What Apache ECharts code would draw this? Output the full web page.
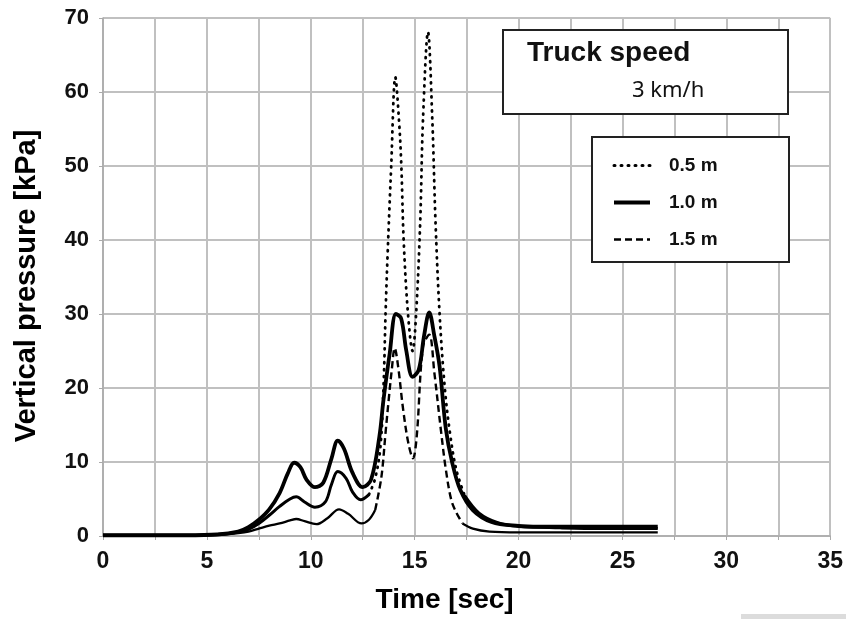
<!DOCTYPE html>
<html>
<head>
<meta charset="utf-8">
<script src="https://cdn.jsdelivr.net/npm/echarts@6/dist/echarts.min.js"></script>
<style>
  html, body { margin: 0; padding: 0; background: #fff; }
  #Pressure { width: 846px; height: 619px; }
</style>
</head>
<body>
<div id="Pressure"></div>
<script>
  // depth 0.5 m (dotted)
  var time05 = [0, 2, 4, 5.5, 6.5, 7, 7.5, 8, 8.5, 9.0, 9.3, 9.7, 10.2, 10.7, 11.0, 11.3, 11.7, 12.0, 12.4, 12.8, 13.1, 13.35, 13.5, 13.6, 13.7, 13.87, 14.07, 14.25, 14.36, 14.47, 14.68, 14.9, 15.07, 15.27, 15.4, 15.64, 15.85, 16.0, 16.2, 16.45, 16.7, 17.0, 17.4, 18.1, 19, 20, 22, 24, 26.7]
  var press05 = [0.1, 0.1, 0.1, 0.2, 0.5, 0.9, 1.7, 2.8, 4.0, 5.0, 5.3, 4.6, 3.9, 4.6, 7.0, 8.7, 7.8, 6.0, 4.9, 5.6, 7.8, 12, 20, 30.1, 38.2, 49.9, 62, 56, 49.9, 40, 30, 25, 30, 42.7, 56.2, 68.1, 56.2, 42.7, 30, 20, 13.9, 9.0, 5.5, 3.1, 1.8, 1.3, 1.1, 1.0, 1.0]
  // depth 1.0 m (thick solid)
  var time10 = [0, 2, 4, 5.5, 6.5, 7, 7.5, 8, 8.5, 8.9, 9.2, 9.5, 9.8, 10.2, 10.6, 11.0, 11.3, 11.6, 12.0, 12.5, 12.9, 13.3, 13.5, 13.8, 14.1, 14.35, 14.6, 14.9, 15.2, 15.45, 15.7, 15.95, 16.2, 16.5, 16.8, 17.2, 17.8, 18.7, 20, 21, 23, 25, 26.7]
  var press10 = [0.1, 0.1, 0.1, 0.2, 0.6, 1.2, 2.2, 3.6, 5.8, 8.5, 9.9, 9.3, 7.6, 6.6, 7.2, 10.5, 12.9, 11.8, 8.6, 6.6, 7.6, 13.4, 18.4, 24.7, 30.0, 29.4, 25.0, 21.5, 22.5, 27.0, 30.2, 27.0, 22.9, 14.5, 10.0, 6.2, 3.5, 1.9, 1.35, 1.25, 1.25, 1.25, 1.25]
  // depth 1.5 m (dashed)
  var time15 = [0, 2, 4, 5.5, 6.5, 7, 7.5, 8, 8.5, 9.0, 9.3, 9.7, 10.27, 10.8, 11.36, 11.8, 12.44, 12.8, 13.1, 13.4, 13.6, 13.75, 13.9, 14.04, 14.2, 14.45, 14.7, 14.92, 15.1, 15.4, 15.7, 15.95, 16.28, 16.5, 16.76, 17.0, 17.3, 17.8, 18.6, 20, 22, 24, 26.7]
  var press15 = [0.1, 0.1, 0.1, 0.15, 0.4, 0.6, 1.0, 1.4, 1.7, 2.1, 2.3, 2.0, 1.6, 2.4, 3.6, 3.0, 1.7, 2.2, 3.5, 8, 14, 18.4, 22.5, 25.4, 23, 17, 12.5, 10.5, 13.5, 25.6, 27.2, 22, 13.9, 9, 4.9, 3.2, 1.7, 1.0, 0.6, 0.5, 0.5, 0.5, 0.5]

  var legendNames = ['0.5 m', '1.0 m', '1.5 m']
  var titleText = 'Truck speed'
  var speedText = '3 km/h'
  var xMax = 35, xStep = 5
  var yMax = 70, yStep = 10

  // the dotted / dashed look only shows around the main peaks, elsewhere the traces look solid
  var styledFrom05 = 12.8, styledTo05 = 17.4
  var styledFrom15 = 13.1, styledTo15 = 17.3

  function pairs(t, v) {
    return t.map(function (x, i) { return [x, v[i]] })
  }
  function inside(t, v, a, b) {
    return pairs(t, v).filter(function (p) { return p[0] >= a && p[0] <= b })
  }
  function outside(t, v, a, b) {
    return pairs(t, v).map(function (p) { return (p[0] > a && p[0] < b) ? [p[0], '-'] : p })
  }

  var chart = echarts.init(document.getElementById('Pressure'))
  var fontMain = "'Liberation Sans', Arial, sans-serif"
  var gridColor = '#c0c0c0'
  var smooth = 0.35
  var dotted = [1, 6], dashed = [7, 4]

  chart.setOption({
    animation: false,
    backgroundColor: '#fff',
    color: ['#000'],
    grid: { left: 103, right: 15, top: 18, bottom: 83 },
    xAxis: {
      type: 'value', min: 0, max: xMax, interval: xStep,
      name: 'Time [sec]', nameLocation: 'middle', nameGap: 50,
      nameTextStyle: { fontFamily: fontMain, fontWeight: 'bold', fontSize: 28, color: '#000', padding: [0, 44, 0, 0] },
      axisLine: { show: true, lineStyle: { color: '#aaa', width: 1.5 } },
      axisTick: { show: true, inside: false, length: 4, lineStyle: { color: '#aaa' } },
      minorTick: { show: true, splitNumber: 2, length: 4, lineStyle: { color: '#aaa' } },
      splitLine: { show: true, lineStyle: { color: gridColor, width: 2 } },
      minorSplitLine: { show: true, lineStyle: { color: gridColor, width: 2 } },
      axisLabel: { fontFamily: fontMain, fontWeight: 'bold', fontSize: 23, color: '#111', margin: 14 }
    },
    yAxis: {
      type: 'value', min: 0, max: yMax, interval: yStep,
      name: 'Vertical pressure [kPa]', nameLocation: 'middle', nameGap: 62,
      nameTextStyle: { fontFamily: fontMain, fontWeight: 'bold', fontSize: 29, color: '#000', padding: [0, 18, 0, 0] },
      axisLine: { show: true, lineStyle: { color: '#aaa', width: 1.5 } },
      axisTick: { show: true, length: 4, lineStyle: { color: '#aaa' } },
      splitLine: { show: true, lineStyle: { color: gridColor, width: 2 } },
      axisLabel: { fontFamily: fontMain, fontWeight: 'bold', fontSize: 22, color: '#111', margin: 14 }
    },
    legend: {
      data: [
        { name: legendNames[0], lineStyle: { width: 3, type: dotted, cap: 'round' } },
        { name: legendNames[1], lineStyle: { width: 4 } },
        { name: legendNames[2], lineStyle: { width: 2.5, type: dashed } }
      ],
      orient: 'vertical',
      left: 607, top: 151,
      itemWidth: 36, itemHeight: 14, itemGap: 18,
      itemStyle: { opacity: 0 },
      textStyle: { fontFamily: fontMain, fontWeight: 'bold', fontSize: 19, color: '#111', padding: [0, 0, 0, 14] },
      z: 10
    },
    graphic: [
      { type: 'rect', shape: { x: 503, y: 30, width: 285, height: 84 }, style: { fill: '#fff', stroke: '#222', lineWidth: 2 }, z: 5 },
      { type: 'text', x: 527, y: 53, style: { text: titleText, font: 'bold 28px ' + fontMain, fill: '#111', verticalAlign: 'middle' }, z: 6 },
      { type: 'text', x: 632, y: 91, style: { text: speedText, font: '22px "Noto Sans", sans-serif', fill: '#111', verticalAlign: 'middle' }, z: 6 },
      { type: 'rect', shape: { x: 592, y: 137, width: 197, height: 125 }, style: { fill: '#fff', stroke: '#222', lineWidth: 2 }, z: 5 },
      { type: 'rect', shape: { x: 741, y: 614, width: 105, height: 5 }, style: { fill: '#dcdcdc' }, z: 1 }
    ],
    series: [
      {
        name: legendNames[0], type: 'line', symbol: 'none', z: 3, smooth: smooth,
        itemStyle: { color: '#000' },
        lineStyle: { color: '#000', width: 2.8, type: dotted, cap: 'round' },
        data: inside(time05, press05, styledFrom05, styledTo05)
      },
      {
        name: legendNames[1], type: 'line', symbol: 'none', z: 4, smooth: smooth,
        itemStyle: { color: '#000' },
        lineStyle: { color: '#000', width: 3.8 },
        data: pairs(time10, press10)
      },
      {
        name: legendNames[2], type: 'line', symbol: 'none', z: 3, smooth: smooth,
        itemStyle: { color: '#000' },
        lineStyle: { color: '#000', width: 2.4, type: dashed },
        data: inside(time15, press15, styledFrom15, styledTo15)
      },
      {
        name: '0.5 m rest', type: 'line', symbol: 'none', z: 3, smooth: smooth,
        lineStyle: { color: '#000', width: 3 },
        data: outside(time05, press05, styledFrom05, styledTo05)
      },
      {
        name: '1.5 m rest', type: 'line', symbol: 'none', z: 3, smooth: smooth,
        lineStyle: { color: '#000', width: 2.3 },
        data: outside(time15, press15, styledFrom15, styledTo15)
      }
    ]
  })
</script>
</body>
</html>
